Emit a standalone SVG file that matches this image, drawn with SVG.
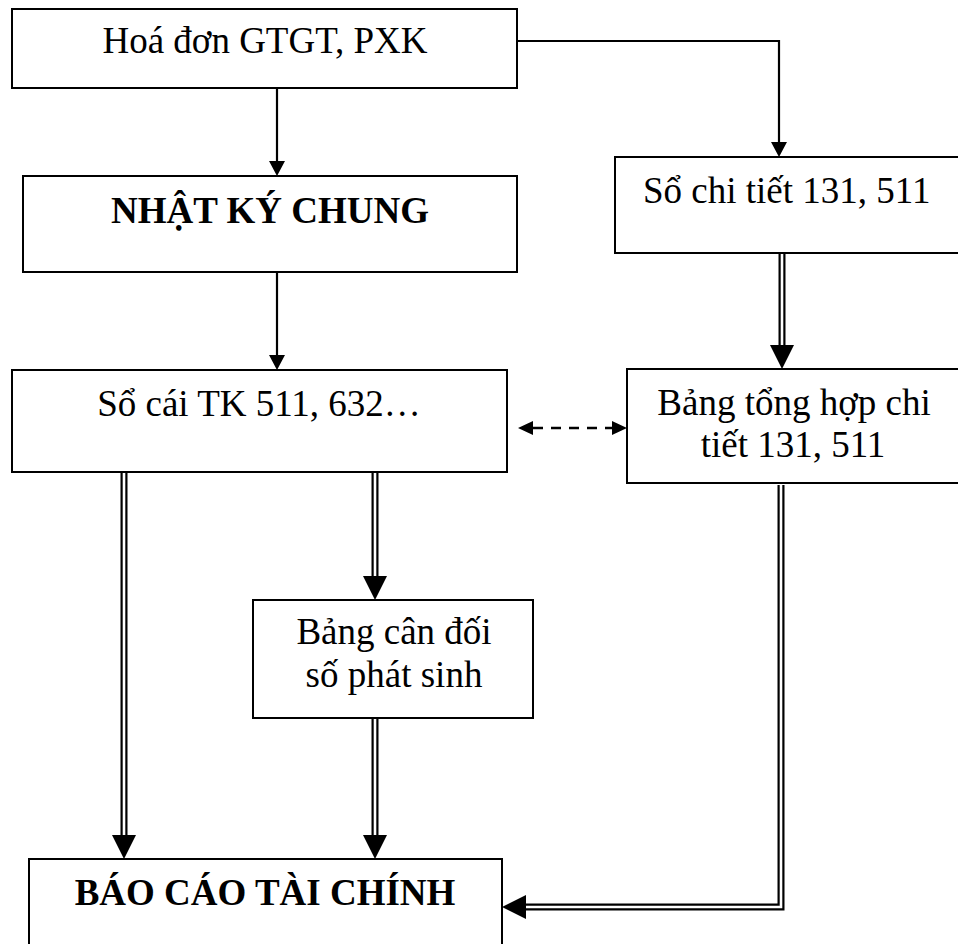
<svg xmlns="http://www.w3.org/2000/svg" width="958" height="944" viewBox="0 0 958 944">
  <style>
    .box { fill: #ffffff; stroke: #000000; stroke-width: 2; }
    .lbl { font-family: "Liberation Serif", "Times New Roman", serif; font-size: 37px; fill: #000000; text-anchor: middle; }
    .bold { font-weight: bold; }
    .single { fill: none; stroke: #000000; stroke-width: 2.2; }
    .dbl-out { fill: none; stroke: #000000; stroke-width: 7; stroke-linejoin: miter; }
    .dbl-in { fill: none; stroke: #ffffff; stroke-width: 2.6; stroke-linejoin: miter; }
    .dash { fill: none; stroke: #000000; stroke-width: 2.6; stroke-dasharray: 10 8; }
  </style>
  <defs>
    <marker id="arrowSmall" markerUnits="userSpaceOnUse" markerWidth="16" markerHeight="16" refX="0" refY="8" orient="auto-start-reverse">
      <path d="M0,0 L15,8 L0,16 z" fill="#000000"/>
    </marker>
    <marker id="arrowDash" markerUnits="userSpaceOnUse" markerWidth="16" markerHeight="14" refX="0" refY="7" orient="auto-start-reverse">
      <path d="M0,0 L15,7 L0,14 z" fill="#000000"/>
    </marker>
    <marker id="arrowBig" markerUnits="userSpaceOnUse" markerWidth="24" markerHeight="24" refX="0" refY="12" orient="auto-start-reverse">
      <path d="M0,0 L24,12 L0,24 z" fill="#000000"/>
    </marker>
  </defs>

  <!-- connectors -->
  <g id="connectors">
    <path class="single" d="M277,88 V161" marker-end="url(#arrowSmall)"/>
    <path class="single" d="M517,41 H779 V142" marker-end="url(#arrowSmall)"/>
    <path class="single" d="M277,272 V355" marker-end="url(#arrowSmall)"/>

    <path class="dbl-out" d="M782,253 V345" marker-end="url(#arrowBig)"/>
    <path class="dbl-in" d="M782,253 V345"/>

    <path class="dbl-out" d="M375,472 V576" marker-end="url(#arrowBig)"/>
    <path class="dbl-in" d="M375,472 V576"/>

    <path class="dbl-out" d="M124,472 V835" marker-end="url(#arrowBig)"/>
    <path class="dbl-in" d="M124,472 V835"/>

    <path class="dbl-out" d="M375,718 V835" marker-end="url(#arrowBig)"/>
    <path class="dbl-in" d="M375,718 V835"/>

    <path class="dbl-out" d="M781,485 V907 H526" marker-end="url(#arrowBig)"/>
    <path class="dbl-in" d="M781,485 V907 H526"/>

    <path class="dash" d="M533,428 H612" marker-start="url(#arrowDash)" marker-end="url(#arrowDash)"/>
  </g>

  <!-- nodes -->
  <g id="hoa-don">
    <rect class="box" x="12" y="9" width="505" height="79"/>
    <text class="lbl" x="265" y="53">Hoá đơn GTGT, PXK</text>
  </g>
  <g id="nhat-ky-chung">
    <rect class="box" x="23" y="176" width="494" height="96"/>
    <text class="lbl bold" x="270" y="223">NHẬT KÝ CHUNG</text>
  </g>
  <g id="so-chi-tiet">
    <rect class="box" x="615" y="157" width="360" height="96"/>
    <text class="lbl" x="643" y="203" style="text-anchor:start">Sổ chi tiết 131, 511</text>
  </g>
  <g id="so-cai">
    <rect class="box" x="12" y="370" width="495" height="102"/>
    <text class="lbl" x="259" y="416">Sổ cái TK 511, 632…</text>
  </g>
  <g id="bang-tong-hop">
    <rect class="box" x="627" y="369" width="350" height="114"/>
    <text class="lbl" x="794" y="415">Bảng tổng hợp chi</text>
    <text class="lbl" x="793" y="457">tiết 131, 511</text>
  </g>
  <g id="bang-can-doi">
    <rect class="box" x="253" y="600" width="280" height="118"/>
    <text class="lbl" x="394" y="644">Bảng cân đối</text>
    <text class="lbl" x="394" y="687">số phát sinh</text>
  </g>
  <g id="bao-cao-tai-chinh">
    <rect class="box" x="29" y="859" width="473" height="100"/>
    <text class="lbl bold" x="265" y="905">BÁO CÁO TÀI CHÍNH</text>
  </g>
</svg>
